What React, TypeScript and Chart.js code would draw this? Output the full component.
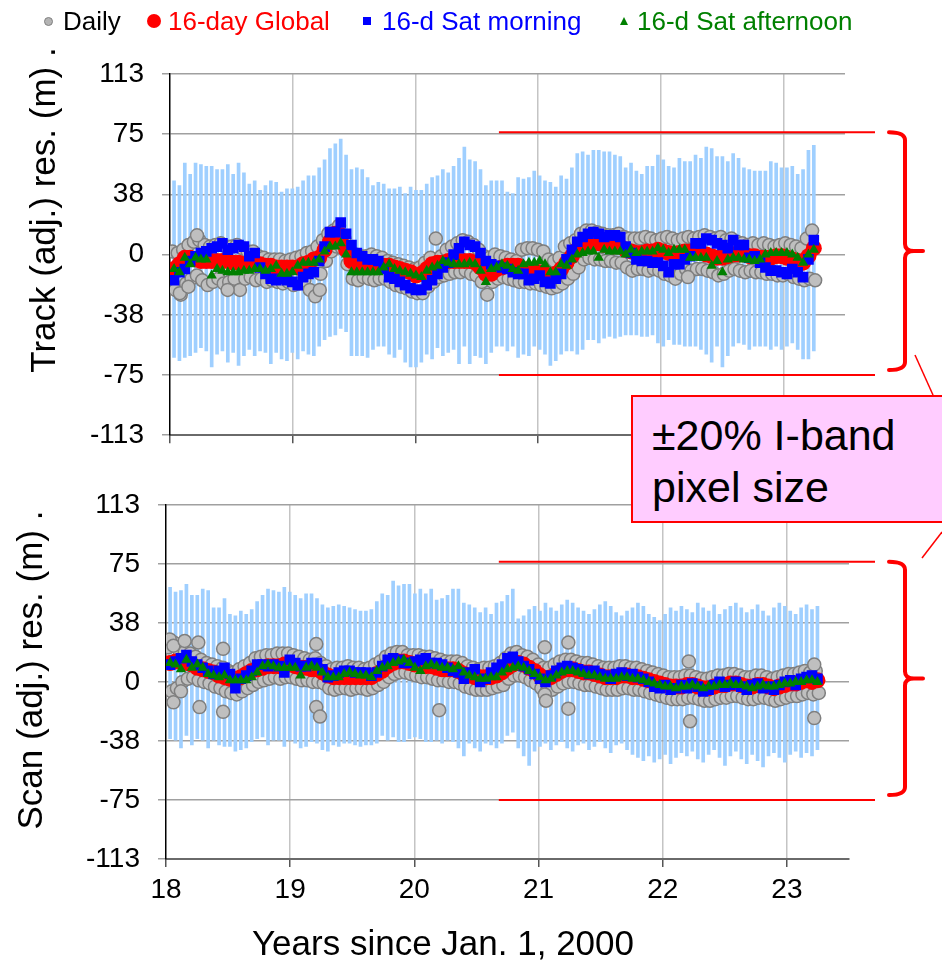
import React, { useEffect, useRef } from "react";
import { Chart, registerables } from "chart.js";

Chart.register(...registerables);

const FONT = '"Liberation Sans", Arial, Helvetica, sans-serif';

// ---- axes / labels ----
const X_MIN = 18;
const X_MAX = 23.5;
const X_TICKS = [18, 19, 20, 21, 22, 23];
const Y_MIN = -112.5;
const Y_MAX = 112.5;
const Y_STEP = 37.5;
const LIMIT = 75; // ±20% of the 375 m I-band pixel
const LIMIT_START_YEAR = 20.68;
const FIRST_PERIOD_YEAR = 18.033;
const PERIOD_DAYS = 16;

const LEGEND_LABELS = ["Daily", "16-day Global", "16-d Sat morning", "16-d Sat afternoon"];
const TOP_Y_TITLE = "Track (adj.) res. (m) .";
const BOTTOM_Y_TITLE = "Scan (adj.) res. (m) .";
const X_TITLE = "Years since Jan. 1, 2000";
const BOX_LINES = ["±20% I-band", "pixel size"];

// ---- Track panel (16-day periods) ----
const TRACK_RANGE_HI = [
  46, 43, 57, 50, 57, 56, 55, 55, 53, 53,
  56, 50, 57, 51, 44, 46, 40, 43, 46, 45,
  39, 41, 41, 42, 46, 49, 49, 54, 59, 66,
  69, 72, 62, 53, 54, 53, 48, 43, 45, 44,
  41, 41, 42, 38, 42, 40, 40, 44, 48, 49,
  53, 51, 55, 60, 67, 59, 58, 53, 43, 46,
  46, 46, 39, 38, 48, 47, 48, 52, 49, 46,
  45, 42, 49, 47, 54, 63, 64, 62, 65, 65,
  64, 64, 62, 61, 54, 57, 52, 50, 55, 55,
  62, 59, 55, 54, 60, 58, 58, 62, 60, 67,
  66, 61, 61, 58, 63, 60, 54, 53, 52, 52,
  52, 58, 57, 54, 54, 55, 50, 53, 65, 68,
];
const TRACK_RANGE_LO = [
  -64, -66, -64, -63, -61, -58, -60, -70, -62, -60,
  -67, -61, -69, -63, -59, -63, -60, -61, -68, -61,
  -65, -66, -61, -65, -60, -62, -63, -57, -53, -51,
  -50, -46, -48, -63, -63, -63, -64, -59, -57, -57,
  -62, -64, -59, -67, -70, -70, -67, -62, -65, -58,
  -63, -61, -59, -68, -57, -68, -63, -64, -68, -61,
  -57, -57, -60, -57, -64, -62, -63, -57, -59, -62,
  -69, -66, -62, -60, -60, -62, -59, -53, -53, -55,
  -52, -51, -52, -51, -50, -50, -50, -51, -51, -50,
  -55, -57, -53, -56, -56, -57, -57, -57, -59, -62,
  -67, -57, -70, -63, -57, -55, -56, -59, -57, -57,
  -57, -59, -57, -59, -57, -55, -59, -65, -65, -60,
];
const TRACK_GLOBAL = [
  -9, -6, -2, -2, -3, -4, -4, -4, -4, -4,
  -4, -5, -5, -6, -6, -6, -6, -7, -7, -8,
  -8, -8, -8, -8, -6, -5, -3, -2, 3, 8,
  13, 12, 3, -4, -6, -6, -6, -6, -7, -7,
  -7, -8, -9, -10, -11, -13, -12, -9, -6, -5,
  -5, -4, -4, -4, -4, -4, -5, -8, -12, -12,
  -9, -8, -7, -7, -7, -9, -10, -10, -11, -12,
  -13, -12, -9, -5, -1, 3, 5, 6, 7, 7,
  6, 6, 5, 5, 3, 2, 1, 1, 2, 2,
  3, 2, 1, 0, 1, 2, 2, 2, 1, 0,
  -1, -2, -2, -1, 0, 0, 0, -1, -1, -2,
  -2, -2, -1, -1, -2, -3, -4, -5, -1, 4,
];
const TRACK_MORNING = [
  -16, -11, -9, -4, -1, 1, 2, 4, 5, 7,
  3, 4, 6, 5, -1, 1, -8, -12, -15, -16,
  -15, -16, -17, -19, -14, -12, -11, -4, 5, 14,
  14, 20, 13, 6, 1, -1, -3, -3, -4, -9,
  -14, -15, -17, -19, -21, -22, -22, -19, -16, -12,
  -8, -5, 0, 4, 8, 6, 5, 1, -4, -6,
  -7, -8, -9, -11, -12, -12, -16, -15, -13, -17,
  -18, -15, -12, -3, 3, 8, 11, 13, 14, 13,
  11, 12, 12, 11, 5, 1, -3, -4, -4, -5,
  -5, -7, -11, -6, -6, -3, -1, 7, 7, 10,
  9, 7, 6, 4, 9, 6, 6, -2, -1, -5,
  -8, -10, -10, -11, -12, -9, -11, -14, -3, 9,
];
const TRACK_AFTERNOON = [
  -9, -11, -2, -6, -2, -3, -3, -13, -9, -10,
  -11, -11, -11, -10, -10, -9, -9, -10, -9, -7,
  -12, -12, -11, -7, -5, -5, -5, -3, 2, 5,
  5, 7, 0, -11, -11, -11, -11, -11, -11, -8,
  -6, -9, -10, -11, -12, -13, -14, -10, -8, -7,
  -4, -5, -6, -6, -6, -5, -6, -10, -17, -9,
  -8, -6, -7, -9, -10, -6, -5, -5, -4, -6,
  -11, -11, -6, -7, -3, 0, 1, 2, 2, -2,
  3, 2, 2, 2, 0, 3, 1, 2, 2, 2,
  4, 3, 1, 3, 3, 3, -2, -2, -2, -2,
  -7, -4, -11, -3, -2, -2, -3, -3, -4, -3,
  0, 1, 1, 1, 1, 0, -2, -5, 0, 3,
];
const TRACK_DAILY_HI = [
  2, 1, 3, 6, 8, 9, 6, 5, 6, 7,
  5, 5, 6, 4, 2, 2, -1, -2, -3, -3,
  -3, -4, -3, -2, -1, 1, 2, 5, 9, 13,
  15, 18, 10, 3, 0, -1, -1, 0, -1, -2,
  -4, -5, -6, -7, -8, -9, -8, -5, -2, 10,
  -1, 3, 5, 7, 9, 8, 6, 3, -1, -2,
  0, -1, -2, -3, -4, 3, 4, 4, 3, 2,
  -3, -4, -2, 5, 7, 9, 13, 15, 15, 14,
  13, 12, 12, 13, 11, 10, 10, 10, 11, 10,
  9, 10, 11, 10, 9, 10, 11, 10, 11, 12,
  11, 10, 11, 9, 10, 8, 7, 6, 7, 6,
  7, 6, 5, 6, 7, 6, 5, 4, 10, 15,
];
const TRACK_DAILY_LO = [
  -22, -25, -18, -15, -13, -16, -19, -17, -15, -18,
  -17, -15, -22, -15, -14, -16, -15, -17, -16, -17,
  -18, -17, -19, -18, -16, -22, -26, -12, -4, 2,
  5, 4, -6, -15, -16, -14, -15, -16, -15, -15,
  -17, -19, -20, -21, -23, -24, -24, -20, -17, -14,
  -13, -12, -11, -11, -10, -12, -13, -17, -25, -17,
  -15, -14, -15, -16, -17, -17, -18, -18, -19, -20,
  -21, -20, -18, -15, -12, -8, -3, -2, -3, -3,
  -4, -4, -5, -5, -8, -10, -9, -9, -10, -9,
  -10, -12, -13, -15, -12, -9, -10, -9, -9, -10,
  -11, -13, -12, -10, -9, -10, -11, -10, -11, -11,
  -12, -12, -13, -13, -12, -14, -15, -16, -15, -16,
];
const TRACK_DAILY_OUT_X = [18.08, 18.15, 18.22, 18.47, 19.22, 22.22];
const TRACK_DAILY_OUT_Y = [-24, -20, 12, -22, -22, -14];

// ---- Scan panel (16-day periods) ----
const SCAN_RANGE_HI = [
  60, 57, 58, 62, 55, 55, 59, 58, 47, 47,
  53, 43, 42, 45, 43, 46, 51, 55, 59, 58,
  57, 60, 57, 55, 53, 56, 56, 53, 49, 47,
  48, 49, 48, 47, 46, 45, 45, 46, 51, 56,
  55, 64, 61, 62, 62, 56, 59, 56, 59, 52,
  53, 55, 59, 59, 50, 49, 47, 44, 47, 43,
  50, 51, 55, 59, 40, 42, 46, 48, 45, 50,
  47, 45, 49, 52, 50, 47, 45, 43, 46, 49,
  51, 48, 44, 42, 45, 47, 50, 48, 43, 41,
  39, 43, 47, 45, 48, 46, 44, 50, 47, 45,
  49, 43, 46, 48, 50, 47, 44, 46, 49, 45,
  42, 47, 50, 48, 45, 43, 47, 49, 46, 48,
];
const SCAN_RANGE_LO = [
  -36, -37, -42, -34, -40, -36, -37, -42, -37, -40,
  -41, -41, -44, -43, -42, -38, -36, -35, -40, -37,
  -37, -41, -37, -39, -42, -41, -38, -39, -43, -44,
  -40, -41, -39, -39, -40, -41, -40, -40, -39, -34,
  -37, -35, -38, -38, -36, -35, -36, -38, -38, -37,
  -39, -37, -38, -42, -47, -39, -42, -44, -39, -40,
  -42, -39, -34, -32, -42, -47, -53, -44, -41, -39,
  -43, -40, -38, -42, -44, -40, -39, -43, -41, -38,
  -42, -45, -40, -39, -43, -46, -48, -50, -47, -51,
  -49, -46, -52, -48, -45, -47, -44, -49, -51, -46,
  -43, -48, -53, -47, -44, -49, -52, -46, -50, -54,
  -47, -45, -48, -51, -46, -44, -48, -45, -47, -43,
];
const SCAN_GLOBAL = [
  12, 13, 13, 12, 11, 9, 8, 7, 6, 4,
  3, 2, 2, 3, 5, 7, 8, 9, 10, 10,
  10, 11, 11, 10, 9, 9, 8, 8, 6, 4,
  3, 3, 3, 3, 3, 3, 3, 3, 5, 7,
  10, 12, 13, 13, 12, 11, 11, 10, 10, 9,
  8, 8, 8, 7, 5, 4, 3, 3, 3, 3,
  4, 6, 9, 11, 12, 11, 9, 7, 4, 2,
  3, 5, 7, 8, 8, 7, 6, 6, 5, 4,
  3, 3, 3, 4, 4, 3, 3, 2, 1, 0,
  -1, -2, -3, -3, -3, -2, -2, -3, -4, -4,
  -3, -2, -2, -1, -1, -2, -3, -3, -2, -2,
  -3, -4, -3, -2, -1, -1, 0, 1, 0, 1,
];
const SCAN_MORNING = [
  11, 13, 15, 17, 13, 11, 9, 7, 5, 7,
  9, 5, -4, 2, 4, 7, 11, 11, 10, 11,
  10, 6, 14, 12, 10, 10, 12, 12, 8, 3,
  4, 6, 7, 7, 6, 6, 6, 4, 6, 10,
  14, 15, 14, 12, 12, 13, 14, 15, 12, 12,
  11, 9, 7, 6, 2, 6, 8, 0, 2, 6,
  9, 11, 15, 16, 13, 10, 8, 5, 2, 0,
  4, 7, 9, 10, 9, 8, 7, 5, 7, 5,
  4, 2, 5, 6, 4, 5, 3, 2, 0, -3,
  -4, -2, -5, -4, -2, -4, -1, -3, -6, -5,
  -2, 0, -3, -2, 0, -3, -5, -2, -1, -4,
  -3, -5, -2, 0, 1, -2, 2, 3, 4, 2,
];
const SCAN_AFTERNOON = [
  12, 11, 8, 14, 9, 11, 9, 5, 4, 3,
  4, 1, 1, 1, 1, 3, 6, 10, 11, 10,
  9, 9, 9, 9, 4, 9, 10, 9, 6, 3,
  3, 3, 5, 6, 5, 4, 4, 3, 7, 9,
  10, 12, 13, 14, 12, 9, 7, 10, 11, 10,
  9, 9, 8, 10, 6, 4, 3, 2, 2, 3,
  3, 6, 8, 9, 10, 9, 7, 5, 3, 1,
  2, 4, 6, 7, 7, 6, 5, 4, 4, 3,
  2, 2, 2, 3, 3, 2, 2, 1, 0, -1,
  -2, -3, -3, -4, -3, -3, -2, -3, -4, -3,
  -3, -2, -2, -1, -2, -2, -3, -4, -3, -2,
  -3, -3, -2, -1, -1, 0, 0, 1, 1, 0,
];
const SCAN_DAILY_HI = [
  22, 25, 20, 19, 18, 16, 14, 12, 11, 10,
  9, 7, 6, 8, 10, 12, 15, 16, 17, 17,
  18, 18, 18, 17, 16, 15, 14, 15, 12, 10,
  8, 9, 9, 10, 9, 9, 8, 9, 11, 13,
  16, 18, 19, 19, 17, 17, 17, 16, 16, 15,
  14, 13, 13, 13, 12, 10, 9, 8, 9, 9,
  10, 12, 15, 18, 19, 17, 16, 14, 11, 9,
  9, 11, 13, 14, 14, 13, 12, 12, 11, 10,
  9, 9, 9, 10, 10, 9, 9, 8, 7, 6,
  5, 4, 3, 3, 3, 4, 4, 3, 2, 2,
  3, 4, 4, 5, 5, 4, 3, 3, 4, 4,
  3, 2, 3, 4, 5, 5, 6, 7, 6, 7,
];
const SCAN_DAILY_LO = [
  -6, -4, 0, 2, 3, 1, 0, -1, -3, -4,
  -6, -7, -8, -6, -4, -2, 0, 1, 2, 3,
  2, 3, 3, 2, 1, 1, 0, 0, -1, -4,
  -5, -4, -4, -5, -4, -4, -5, -4, -2, 0,
  3, 5, 6, 6, 5, 4, 3, 3, 2, 1,
  1, 0, 0, -1, -3, -4, -5, -5, -5, -4,
  -3, -2, 2, 4, 4, 3, 1, -1, -4, -6,
  -5, -3, -1, 0, 0, -1, -2, -2, -3, -4,
  -5, -5, -5, -4, -4, -5, -5, -6, -7, -8,
  -9, -10, -11, -11, -11, -10, -10, -11, -12, -12,
  -11, -10, -10, -9, -9, -10, -11, -11, -10, -10,
  -11, -12, -11, -10, -9, -9, -8, -7, -8, -7,
];
const SCAN_DAILY_OUT_X = [
  18.03, 18.06, 18.15, 18.26, 18.06, 18.12, 18.27, 18.46, 18.46, 19.21, 19.21,
  19.24, 20.2, 21.05, 21.06, 21.05, 21.24, 21.24, 22.22, 22.21, 23.22, 23.22,
];
const SCAN_DAILY_OUT_Y = [
  27, 23, 26, 25, -13, -6, -16, 21, -19, 24, -16,
  -22, -18, -8, -12, 22, -17, 25, -25, 13, -23, 11,
];

const periods = (n: number) =>
  Array.from({ length: n }, (_, i) => FIRST_PERIOD_YEAR + (i * PERIOD_DAYS) / 365.25);

const fmtTick = (v: number) => {
  const r = Math.round(Math.abs(v));
  return v < 0 ? "-" + r : String(r);
};

type PanelData = {
  hi: number[];
  lo: number[];
  global: number[];
  morning: number[];
  afternoon: number[];
  dailyHi: number[];
  dailyLo: number[];
  outX: number[];
  outY: number[];
};

const TRACK: PanelData = {
  hi: TRACK_RANGE_HI,
  lo: TRACK_RANGE_LO,
  global: TRACK_GLOBAL,
  morning: TRACK_MORNING,
  afternoon: TRACK_AFTERNOON,
  dailyHi: TRACK_DAILY_HI,
  dailyLo: TRACK_DAILY_LO,
  outX: TRACK_DAILY_OUT_X,
  outY: TRACK_DAILY_OUT_Y,
};
const SCAN: PanelData = {
  hi: SCAN_RANGE_HI,
  lo: SCAN_RANGE_LO,
  global: SCAN_GLOBAL,
  morning: SCAN_MORNING,
  afternoon: SCAN_AFTERNOON,
  dailyHi: SCAN_DAILY_HI,
  dailyLo: SCAN_DAILY_LO,
  outX: SCAN_DAILY_OUT_X,
  outY: SCAN_DAILY_OUT_Y,
};

type PanelProps = {
  data: PanelData;
  top: number;
  height: number;
  pad: { left: number; top: number; right: number; bottom: number };
  yWidth: number;
  xHeight: number;
  showXLabels: boolean;
  yTitle: string;
  yTitlePos: [number, number];
  xTitlePos: [number, number] | null;
  leader: [number, number, number, number];
};

function Panel(props: PanelProps) {
  const ref = useRef<HTMLCanvasElement>(null);
  useEffect(() => {
    const { data, pad, yWidth, xHeight, showXLabels, yTitle, yTitlePos, xTitlePos, leader } = props;
    const t = periods(data.global.length);
    const pts = (arr: number[], dx = 0) => arr.map((v, i) => ({ x: t[i] + dx, y: v }));
    const daily = [
      ...pts(data.dailyHi, -5 / 365.25),
      ...pts(data.dailyLo, 4 / 365.25),
      ...data.outX.map((x, i) => ({ x, y: data.outY[i] })),
    ];

    const decor = {
      id: "decor",
      afterDraw(chart: any) {
        const { ctx, scales } = chart;
        const x = scales.x;
        const y = scales.y;
        ctx.save();
        ctx.fillStyle = "#000";
        ctx.font = `35px ${FONT}`;
        ctx.textAlign = "center";
        ctx.textBaseline = "middle";
        ctx.save();
        ctx.translate(yTitlePos[0], yTitlePos[1]);
        ctx.rotate(-Math.PI / 2);
        ctx.fillText(yTitle, 0, 0);
        ctx.restore();
        if (xTitlePos) ctx.fillText(X_TITLE, xTitlePos[0], xTitlePos[1]);

        // ±75 m limit lines
        const x0 = x.getPixelForValue(LIMIT_START_YEAR);
        const x1 = chart.width - 67;
        const yTop = y.getPixelForValue(LIMIT);
        const yBot = y.getPixelForValue(-LIMIT);
        ctx.strokeStyle = "#ff0000";
        ctx.lineWidth = 2;
        ctx.beginPath();
        ctx.moveTo(x0, yTop - 2);
        ctx.lineTo(x1, yTop - 2);
        ctx.moveTo(x0, yBot);
        ctx.lineTo(x1, yBot);
        ctx.stroke();

        // curly brace
        const bx = chart.width - 37;
        const bt = yTop - 2;
        const bb = yBot - 5;
        const mid = (bt + bb) / 2;
        ctx.lineWidth = 4;
        ctx.lineJoin = "round";
        ctx.lineCap = "round";
        ctx.beginPath();
        ctx.moveTo(bx - 16, bt);
        ctx.quadraticCurveTo(bx, bt, bx, bt + 8);
        ctx.lineTo(bx, mid - 7);
        ctx.quadraticCurveTo(bx, mid, bx + 9, mid);
        ctx.lineTo(bx + 18, mid);
        ctx.moveTo(bx + 9, mid);
        ctx.quadraticCurveTo(bx, mid, bx, mid + 7);
        ctx.lineTo(bx, bb - 8);
        ctx.quadraticCurveTo(bx, bb, bx - 16, bb);
        ctx.stroke();

        // leader line toward the callout box
        ctx.lineWidth = 1.5;
        ctx.lineCap = "butt";
        ctx.beginPath();
        ctx.moveTo(leader[0], leader[1]);
        ctx.lineTo(leader[2], leader[3]);
        ctx.stroke();
        ctx.restore();
      },
    };

    const chart = new Chart(ref.current as HTMLCanvasElement, {
      type: "scatter",
      data: {
        datasets: [
          {
            type: "scatter",
            label: LEGEND_LABELS[3],
            data: pts(data.afternoon),
            pointStyle: "triangle",
            pointRadius: 6,
            backgroundColor: "#008000",
            borderColor: "#008000",
            borderWidth: 0,
            order: 1,
          },
          {
            type: "scatter",
            label: LEGEND_LABELS[2],
            data: pts(data.morning),
            pointStyle: "rect",
            pointRadius: 7.5,
            backgroundColor: "#0000ff",
            borderColor: "#0000ff",
            borderWidth: 0,
            order: 2,
          },
          {
            type: "line",
            label: LEGEND_LABELS[1],
            data: pts(data.global),
            borderColor: "#ff0000",
            borderWidth: 12,
            borderJoinStyle: "round",
            borderCapStyle: "round",
            tension: 0,
            pointRadius: 8,
            pointBackgroundColor: "#ff0000",
            pointBorderWidth: 0,
            order: 3,
          },
          {
            type: "scatter",
            label: LEGEND_LABELS[0],
            data: daily,
            pointRadius: 6.5,
            backgroundColor: "#bfbfbf",
            borderColor: "#7f7f7f",
            borderWidth: 1.5,
            order: 4,
          },
          {
            type: "bar",
            label: "range",
            data: t.map((x, i) => ({ x, y: [data.lo[i], data.hi[i]] })),
            backgroundColor: "#9fcfff",
            borderWidth: 0,
            barThickness: 3,
            order: 5,
          },
        ] as any,
      },
      options: {
        responsive: false,
        animation: false,
        events: [],
        layout: { padding: pad },
        plugins: { legend: { display: false }, tooltip: { enabled: false } },
        scales: {
          x: {
            type: "linear",
            min: X_MIN,
            max: X_MAX,
            offset: false,
            afterBuildTicks: (s: any) => {
              s.ticks = X_TICKS.map((v) => ({ value: v }));
            },
            afterFit: (s: any) => {
              s.height = xHeight;
            },
            ticks: {
              display: showXLabels,
              autoSkip: false,
              maxRotation: 0,
              color: "#000",
              font: { family: FONT, size: 28 },
              padding: 6,
              callback: (v: any) => String(v),
            },
            grid: {
              color: (c: any) => (c.tick && c.tick.value === X_MIN ? "rgba(0,0,0,0)" : "#c4c4c4"),
              lineWidth: 1.5,
              drawTicks: true,
              tickLength: 8,
              tickColor: "#555",
              offset: false,
            },
            border: { color: "#6a6a6a", width: 2 },
          },
          y: {
            type: "linear",
            min: Y_MIN,
            max: Y_MAX,
            afterFit: (s: any) => {
              s.width = yWidth;
            },
            ticks: {
              stepSize: Y_STEP,
              color: "#000",
              font: { family: FONT, size: 28 },
              padding: 18,
              callback: (v: any) => fmtTick(Number(v)),
            },
            grid: {
              color: (c: any) => (c.tick && c.tick.value === Y_MIN ? "rgba(0,0,0,0)" : "#a0a0a0"),
              tickColor: "#a0a0a0",
              lineWidth: 1.5,
              tickLength: 8,
            },
            border: { color: "#000", width: 1.5 },
          },
        },
      } as any,
      plugins: [decor],
    });
    return () => chart.destroy();
  }, []);

  return (
    <canvas
      ref={ref}
      width={942}
      height={props.height}
      style={{ position: "absolute", left: 0, top: props.top, width: 942, height: props.height, display: "block" }}
    />
  );
}

const legendText: React.CSSProperties = {
  position: "absolute",
  top: 8,
  fontFamily: FONT,
  fontSize: 26,
  lineHeight: "26px",
  whiteSpace: "nowrap",
};

export default function App() {
  return (
    <div
      style={{
        position: "absolute",
        left: 0,
        top: 0,
        width: 942,
        height: 966,
        overflow: "hidden",
        background: "#fff",
      }}
    >
      <Panel
        data={TRACK}
        top={0}
        height={470}
        pad={{ left: 0, top: 74, right: 97, bottom: 0 }}
        yWidth={170}
        xHeight={29}
        showXLabels={false}
        yTitle={TOP_Y_TITLE}
        yTitlePos={[45, 210]}
        xTitlePos={null}
        leader={[915, 355, 933, 395]}
      />
      <Panel
        data={SCAN}
        top={470}
        height={496}
        pad={{ left: 0, top: 26, right: 93, bottom: 0 }}
        yWidth={166}
        xHeight={107}
        showXLabels={true}
        yTitle={BOTTOM_Y_TITLE}
        yTitlePos={[32, 200]}
        xTitlePos={[443, 475]}
        leader={[942, 62, 922, 88]}
      />

      {/* legend */}
      <div style={{ position: "absolute", left: 43.5, top: 16.5, width: 9, height: 9, borderRadius: "50%", background: "#b4b4b4", border: "1px solid #808080", boxSizing: "border-box" }} />
      <div style={{ ...legendText, left: 63, color: "#000" }}>{LEGEND_LABELS[0]}</div>
      <div style={{ position: "absolute", left: 147, top: 14, width: 14, height: 14, borderRadius: "50%", background: "#ff0000" }} />
      <div style={{ ...legendText, left: 168, color: "#ff0000" }}>{LEGEND_LABELS[1]}</div>
      <div style={{ position: "absolute", left: 363, top: 17, width: 8, height: 8, background: "#0000ff" }} />
      <div style={{ ...legendText, left: 382, color: "#0000ff" }}>{LEGEND_LABELS[2]}</div>
      <div style={{ position: "absolute", left: 620, top: 17, width: 0, height: 0, borderLeft: "4px solid transparent", borderRight: "4px solid transparent", borderBottom: "8px solid #008000" }} />
      <div style={{ ...legendText, left: 637, color: "#008000" }}>{LEGEND_LABELS[3]}</div>

      {/* callout box */}
      <div
        style={{
          position: "absolute",
          left: 631,
          top: 395,
          width: 340,
          height: 128,
          boxSizing: "border-box",
          background: "#ffccff",
          border: "2px solid #ff0000",
          paddingLeft: 19,
          paddingTop: 12,
          fontFamily: FONT,
          fontSize: 43,
          lineHeight: "52px",
          color: "#000",
          whiteSpace: "nowrap",
        }}
      >
        <div>{BOX_LINES[0]}</div>
        <div>{BOX_LINES[1]}</div>
      </div>
    </div>
  );
}
